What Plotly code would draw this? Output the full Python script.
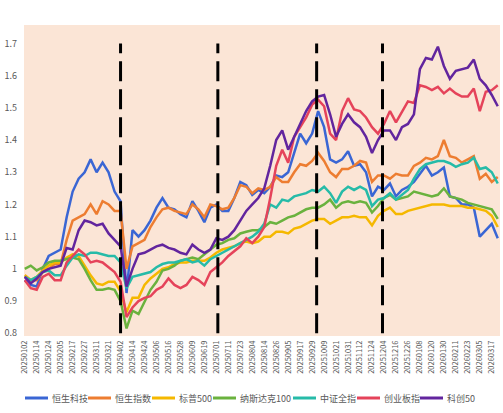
import pandas as pd
import plotly.graph_objects as go

# trading calendar used by the chart: weekdays, New Year's day closed
_days = pd.bdate_range("2025-01-02", "2026-03-31")
_days = _days[~((_days.month == 1) & (_days.day == 1))]
trade_days = [d.strftime("%Y%m%d") for d in _days]

# values every 4 trading days
sample_dates = trade_days[0:320:4]
tick_dates = trade_days[0:313:8]
event_dates = ["20250402", "20250702", "20251002", "20251203"]

hstech = [0.965, 0.95, 0.945, 1.00, 1.04, 1.05, 1.06, 1.16, 1.24, 1.28,
          1.30, 1.34, 1.30, 1.33, 1.30, 1.24, 1.21, 0.925, 1.12, 1.10,
          1.12, 1.15, 1.19, 1.22, 1.19, 1.185, 1.17, 1.16, 1.21, 1.18,
          1.145, 1.19, 1.20, 1.18, 1.18, 1.22, 1.27, 1.26, 1.23, 1.245,
          1.235, 1.255, 1.29, 1.285, 1.30, 1.36, 1.42, 1.39, 1.42, 1.49,
          1.44, 1.34, 1.33, 1.34, 1.365, 1.32, 1.325, 1.30, 1.225, 1.255,
          1.245, 1.265, 1.225, 1.245, 1.255, 1.27, 1.295, 1.32, 1.29, 1.30,
          1.315, 1.225, 1.22, 1.20, 1.20, 1.19, 1.10, 1.12, 1.14, 1.095]

hsi = [0.98, 0.965, 0.965, 0.99, 1.00, 1.015, 1.015, 1.09, 1.15, 1.16,
       1.17, 1.20, 1.17, 1.21, 1.20, 1.18, 1.18, 1.00, 1.07, 1.08,
       1.09, 1.13, 1.16, 1.185, 1.19, 1.18, 1.175, 1.17, 1.20, 1.185,
       1.16, 1.20, 1.195, 1.185, 1.19, 1.22, 1.26, 1.255, 1.235, 1.25,
       1.245, 1.255, 1.285, 1.27, 1.27, 1.30, 1.325, 1.32, 1.335, 1.36,
       1.335, 1.30, 1.285, 1.31, 1.31, 1.32, 1.335, 1.33, 1.27, 1.29,
       1.29, 1.28, 1.295, 1.29, 1.29, 1.32, 1.33, 1.345, 1.34, 1.35,
       1.40, 1.35, 1.345, 1.33, 1.34, 1.35, 1.28, 1.295, 1.27, 1.285]

spx = [0.98, 0.965, 0.975, 0.995, 1.01, 1.02, 1.02, 1.035, 1.045, 1.04,
       1.01, 0.98, 0.955, 0.95, 0.96, 0.96, 0.93, 0.865, 0.91, 0.91,
       0.95, 0.97, 0.985, 1.00, 1.005, 1.015, 1.02, 1.02, 1.025, 1.025,
       1.025, 1.035, 1.05, 1.06, 1.065, 1.07, 1.08, 1.085, 1.08, 1.085,
       1.10, 1.10, 1.115, 1.115, 1.11, 1.125, 1.13, 1.14, 1.15, 1.155,
       1.155, 1.14, 1.15, 1.16, 1.16, 1.165, 1.16, 1.16, 1.135, 1.165,
       1.18, 1.19, 1.17, 1.17, 1.18, 1.185, 1.19, 1.195, 1.20, 1.20,
       1.20, 1.195, 1.195, 1.195, 1.19, 1.19, 1.185, 1.18, 1.165, 1.13]

ndx = [1.00, 1.01, 0.995, 1.005, 1.02, 1.025, 1.025, 1.03, 1.035, 1.03,
       1.00, 0.965, 0.935, 0.935, 0.94, 0.935, 0.90, 0.815, 0.87, 0.86,
       0.90, 0.935, 0.96, 0.995, 1.00, 1.01, 1.025, 1.03, 1.035, 1.03,
       1.045, 1.06, 1.075, 1.08, 1.09, 1.095, 1.11, 1.115, 1.12, 1.12,
       1.13, 1.145, 1.14, 1.15, 1.16, 1.165, 1.175, 1.185, 1.19, 1.19,
       1.20, 1.215, 1.19, 1.205, 1.21, 1.205, 1.21, 1.205, 1.175, 1.195,
       1.22, 1.23, 1.215, 1.22, 1.225, 1.24, 1.235, 1.23, 1.225, 1.23,
       1.25, 1.225, 1.22, 1.215, 1.205, 1.20, 1.195, 1.19, 1.185, 1.155]

csi_all = [0.975, 0.965, 0.975, 0.99, 0.995, 0.98, 0.98, 1.01, 1.035, 1.045,
           1.04, 1.05, 1.05, 1.045, 1.04, 1.04, 1.02, 0.94, 0.975, 0.98,
           0.985, 0.99, 1.005, 1.015, 1.02, 1.02, 1.025, 1.03, 1.02, 1.025,
           1.01, 1.03, 1.04, 1.05, 1.06, 1.07, 1.08, 1.09, 1.10, 1.115,
           1.14, 1.20, 1.19, 1.215, 1.21, 1.225, 1.23, 1.235, 1.245, 1.24,
           1.255, 1.235, 1.205, 1.24, 1.255, 1.245, 1.255, 1.245, 1.195, 1.215,
           1.22, 1.235, 1.215, 1.23, 1.245, 1.28, 1.31, 1.325, 1.33, 1.335,
           1.335, 1.328, 1.317, 1.325, 1.33, 1.345, 1.31, 1.315, 1.30, 1.265]

chinext = [0.965, 0.94, 0.935, 0.975, 0.985, 0.965, 0.965, 1.02, 1.04, 1.06,
           1.045, 1.02, 1.025, 1.02, 1.005, 0.99, 0.96, 0.85, 0.88, 0.90,
           0.91, 0.915, 0.935, 0.945, 0.97, 0.95, 0.94, 0.95, 0.975, 0.965,
           0.95, 0.99, 1.005, 1.02, 1.04, 1.055, 1.07, 1.095, 1.08, 1.10,
           1.13, 1.22, 1.32, 1.37, 1.33, 1.41, 1.44, 1.47, 1.51, 1.525,
           1.505, 1.42, 1.40, 1.49, 1.53, 1.495, 1.49, 1.47, 1.44, 1.42,
           1.45, 1.49, 1.455, 1.49, 1.52, 1.515, 1.57, 1.565, 1.555, 1.565,
           1.545, 1.56, 1.545, 1.535, 1.535, 1.56, 1.49, 1.55, 1.555, 1.57]

star50 = [0.975, 0.955, 0.97, 0.99, 1.00, 1.005, 1.01, 1.065, 1.06, 1.12,
          1.15, 1.145, 1.135, 1.14, 1.11, 1.09, 1.07, 0.945, 1.00, 1.045,
          1.05, 1.06, 1.07, 1.075, 1.065, 1.06, 1.05, 1.045, 1.075, 1.06,
          1.05, 1.06, 1.095, 1.09, 1.10, 1.12, 1.15, 1.18, 1.20, 1.22,
          1.25, 1.32, 1.40, 1.43, 1.37, 1.41, 1.45, 1.49, 1.52, 1.535,
          1.54, 1.48, 1.41, 1.45, 1.48, 1.455, 1.44, 1.41, 1.36, 1.40,
          1.43, 1.43, 1.40, 1.44, 1.45, 1.48, 1.62, 1.655, 1.65, 1.69,
          1.63, 1.59, 1.615, 1.62, 1.625, 1.65, 1.59, 1.57, 1.54, 1.505]

series_names = ["恒生科技", "恒生指数", "标普500", "纳斯达克100", "中证全指", "创业板指", "科创50"]
series_values = [hstech, hsi, spx, ndx, csi_all, chinext, star50]
series_colors = ["#3A66D4", "#ED7D31", "#F5B800", "#6AB23E", "#26BBA8", "#E5435A", "#62259E"]

W, H = 503, 413
L, R, T, B = 24, 3, 25, 77
TEXT = "#595959"
FONT = "Noto Sans CJK SC"


def px_to_paper(px, py):
    return (px - L) / (W - L - R), (H - B - py) / (H - T - B)


fig = go.Figure()
for name, vals, color in zip(series_names, series_values, series_colors):
    fig.add_trace(go.Scatter(
        x=sample_dates, y=vals, mode="lines", name=name,
        line=dict(color=color, width=2.5), showlegend=False,
    ))

# digit-only category names get read as numbers by shapes, so place by index
for d in event_dates:
    i = trade_days.index(d)
    fig.add_shape(type="line", xref="x", yref="y", x0=i, x1=i, y0=0.8, y1=1.7,
                  line=dict(color="black", width=3, dash="20px,8px"))

# legend drawn by hand so the entries fit on one row like the original
legend_x = [25, 88, 152, 213, 293, 357, 420]
for name, color, lx in zip(series_names, series_colors, legend_x):
    x0, y0 = px_to_paper(lx, 398)
    x1, _ = px_to_paper(lx + 23, 398)
    fig.add_shape(type="line", xref="paper", yref="paper", x0=x0, x1=x1, y0=y0, y1=y0,
                  line=dict(color=color, width=3))
    tx, _ = px_to_paper(lx + 25, 398)
    fig.add_annotation(xref="paper", yref="paper", x=tx, y=y0, text=name, showarrow=False,
                       xanchor="left", yanchor="middle", font=dict(size=9, color=TEXT, family=FONT))

fig.update_layout(
    width=W, height=H,
    margin=dict(l=L, r=R, t=T, b=B, autoexpand=False),
    paper_bgcolor="white",
    plot_bgcolor="#FBE5D6",
    font=dict(family=FONT, size=9, color=TEXT),
    showlegend=False,
)
fig.update_xaxes(
    type="category", categoryorder="array", categoryarray=trade_days,
    range=[-0.5, 317.5], tickmode="array", tickvals=tick_dates, ticktext=tick_dates,
    tickangle=-90, tickfont=dict(size=7.5), showgrid=False, zeroline=False, ticks="",
    ticklabelstandoff=2, automargin=False,
)
fig.update_yaxes(
    range=[0.7915, 1.7573], tick0=0.8, dtick=0.1, showgrid=False, zeroline=False,
    ticks="", ticklabelstandoff=6, automargin=False,
)

# the page's default body margin would push the figure 8px right and down
fig.write_html("out.html", config={"displayModeBar": False},
               post_script="document.body.style.margin = '0';")
